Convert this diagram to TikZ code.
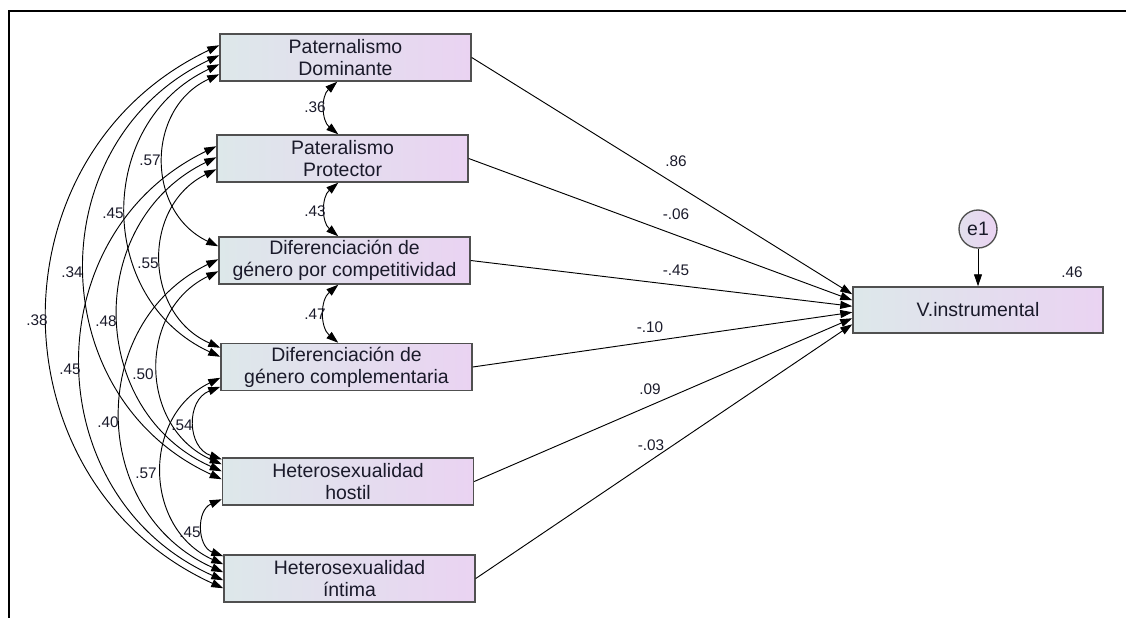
\documentclass[tikz,border=0pt]{standalone}
\usepackage{fontspec}
\setmainfont{Liberation Sans}
\usetikzlibrary{arrows.meta,calc}
\definecolor{boxL}{HTML}{DDE8EA}
\definecolor{boxR}{HTML}{EAD3F2}
\definecolor{edgegray}{HTML}{505050}
\definecolor{txt}{HTML}{1A1A2A}
\begin{document}
\begin{tikzpicture}[x=0.75pt,y=-0.75pt,
  var/.style={draw=edgegray, line width=1.1pt, left color=boxL, right color=boxR,
    minimum width=188.25pt, minimum height=35.25pt, inner sep=0pt, align=center,
    text=txt, font=\fontsize{14.6}{16.5}\selectfont},
  errc/.style={circle, draw=edgegray, line width=1pt, left color=boxL!60!boxR, right color=boxR,
    minimum size=28.5pt, inner sep=0pt, text=txt, font=\fontsize{14.6}{16.5}\selectfont},
  lab/.style={inner sep=0pt, text=txt, font=\fontsize{11.5}{12}\selectfont},
  tip/.tip={Triangle[length=9pt,width=6pt]},
  pathc/.style={-tip, line width=0.7pt},
  cov/.style={tip-tip, line width=0.7pt, bend right=65, looseness=1.2},
  covs/.style={tip-tip, line width=0.7pt, bend right=50, looseness=1.05}]
\useasboundingbox (0,0) rectangle (1126,618);
\draw[line width=1.5pt] (1126,11) -- (9,11) -- (9,618);

% variables
\node[var] (b1) at (345.5,57.5) {Paternalismo\\Dominante};
\node[var] (b2) at (342.5,158.5) {Pateralismo\\Protector};
\node[var] (b3) at (344.5,260.5) {Diferenciación de\\género por competitividad};
\node[var] (b4) at (346.5,367) {Diferenciación de\\género complementaria};
\node[var] (b5) at (348,481.5) {Heterosexualidad\\hostil};
\node[var] (b6) at (349.5,578.5) {Heterosexualidad\\íntima};
\node[var, minimum width=187.5pt, minimum height=34.5pt] (v) at (978,310) {V.instrumental};
\node[errc] (e1) at (978,229) {e1};

% regression paths
\draw[pathc] (b1.east) -- ($(v.north west)+(0,8)$);
\draw[pathc] (b2.east) -- ($(v.north west)+(0,14)$);
\draw[pathc] (b3.east) -- ($(v.north west)+(0,20)$);
\draw[pathc] (b4.east) -- ($(v.north west)+(0,26)$);
\draw[pathc] (b5.east) -- ($(v.north west)+(0,32)$);
\draw[pathc] (b6.east) -- ($(v.north west)+(0,38)$);
\draw[pathc] (e1.south) -- (v.north);

\node[lab] (l86) at (676,161) {.86};
\node[lab] (l06) at (676,214) {-.06};
\node[lab] (l45p) at (676,270) {-.45};
\node[lab] (l10) at (650,327) {-.10};
\node[lab] (l09) at (650,389) {.09};
\node[lab] (l03) at (651,445) {-.03};
\node[lab] (r2) at (1072,272) {.46};

% adjacent covariances (box to box)
\draw[covs] ($(b1.south west)+(118,0)$) to ($(b2.north west)+(122,0)$);
\draw[covs] ($(b2.south west)+(122,0)$) to ($(b3.north west)+(120,0)$);
\draw[covs] ($(b3.south west)+(120,0)$) to ($(b4.north west)+(118,0)$);
\node[lab] (c12) at (315,107) {.36};
\node[lab] (c23) at (315,211) {.43};
\node[lab] (c34) at (315,314) {.47};

% covariances on the left side
\draw[cov] ($(b1.north west)+(0,12)$) to ($(b6.north west)+(0,34)$);
\draw[cov] ($(b1.north west)+(0,22)$) to ($(b5.north west)+(0,22)$);
\draw[cov] ($(b1.north west)+(0,31)$) to ($(b4.north west)+(0,14)$);
\draw[cov] ($(b1.north west)+(0,41)$) to ($(b3.north west)+(0,10)$);
\draw[cov] ($(b2.north west)+(0,12)$) to ($(b6.north west)+(0,26)$);
\draw[cov] ($(b2.north west)+(0,23)$) to ($(b5.north west)+(0,14)$);
\draw[cov] ($(b2.north west)+(0,35)$) to ($(b4.north west)+(0,5)$);
\draw[cov] ($(b3.north west)+(0,23)$) to ($(b6.north west)+(0,18)$);
\draw[cov] ($(b3.north west)+(0,35)$) to ($(b5.north west)+(0,7)$);
\draw[cov] ($(b4.north west)+(0,35)$) to ($(b6.north west)+(0,10)$);
\draw[cov, bend right=70, looseness=1.3] ($(b4.north west)+(0,44)$) to ($(b5.north west)+(0,2)$);
\draw[cov, bend right=68, looseness=1.25] ($(b5.north west)+(0,42)$) to ($(b6.north west)+(0,2)$);

\node[lab] (c16) at (37,320) {.38};
\node[lab] (c15) at (72,272) {.34};
\node[lab] (c14) at (113,213) {.45};
\node[lab] (c13) at (150,160) {.57};
\node[lab] (c26) at (70,369) {.45};
\node[lab] (c25) at (106,321) {.48};
\node[lab] (c24) at (148,263) {.55};
\node[lab] (c36) at (108,422) {.40};
\node[lab] (c35) at (143,374) {.50};
\node[lab] (c46) at (146,473) {.57};
\node[lab] (c45) at (182,425) {.54};
\node[lab] (c56) at (190,532) {.45};
\end{tikzpicture}
\end{document}
